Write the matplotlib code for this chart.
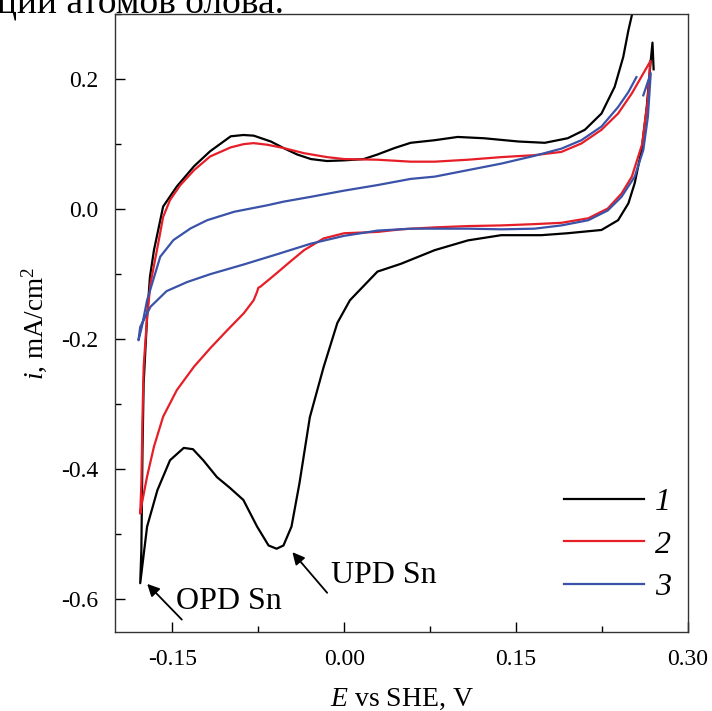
import matplotlib
matplotlib.use("Agg")
import matplotlib.pyplot as plt
from matplotlib.ticker import MultipleLocator, FormatStrFormatter

plt.rcParams["font.family"] = ["Liberation Serif", "DejaVu Serif"]
plt.rcParams["mathtext.fontset"] = "custom"
plt.rcParams["mathtext.rm"] = "Liberation Serif"
plt.rcParams["mathtext.it"] = "Liberation Serif:italic"
plt.rcParams["axes.unicode_minus"] = False

# --- кривая 1 (чёрная): катодная ветвь, затем анодная ---
e1 = [0.270, 0.269, 0.267, 0.264, 0.2595, 0.2535, 0.248, 0.239, 0.2245, 0.195,
      0.172, 0.137, 0.108, 0.079, 0.0495, 0.029, 0.005, -0.006, -0.018, -0.030,
      -0.039, -0.046, -0.053, -0.059, -0.066, -0.076, -0.088, -0.100, -0.111, -0.123,
      -0.132, -0.140, -0.152, -0.163, -0.172, -0.178,
      -0.177, -0.176, -0.175, -0.172, -0.1695, -0.166, -0.158, -0.146, -0.131, -0.117,
      -0.099, -0.088, -0.079, -0.064, -0.053, -0.041, -0.029, -0.015, 0.000, 0.017,
      0.029, 0.044, 0.058, 0.079, 0.099, 0.122, 0.152, 0.175, 0.195, 0.210,
      0.2245, 0.236, 0.2435, 0.248, 0.251, 0.254]
i1 = [0.215, 0.256, 0.219, 0.157, 0.091, 0.040, 0.009, -0.017, -0.032, -0.037,
      -0.040, -0.040, -0.048, -0.063, -0.084, -0.096, -0.140, -0.175, -0.243, -0.320,
      -0.421, -0.488, -0.517, -0.522, -0.517, -0.488, -0.447, -0.428, -0.412, -0.386,
      -0.369, -0.367, -0.386, -0.432, -0.488, -0.575,
      -0.524, -0.370, -0.268, -0.166, -0.104, -0.063, 0.004, 0.035, 0.066, 0.089,
      0.112, 0.114, 0.113, 0.104, 0.094, 0.084, 0.077, 0.074, 0.075, 0.077,
      0.084, 0.094, 0.102, 0.106, 0.111, 0.109, 0.104, 0.102, 0.109, 0.122,
      0.147, 0.188, 0.234, 0.275, 0.298, 0.330]

# --- кривая 2 (красная) ---
e2 = [0.267, 0.265, 0.260, 0.251, 0.242, 0.230, 0.213, 0.1895, 0.166, 0.137,
      0.108, 0.079, 0.0495, 0.029, 0.000, -0.018, -0.035, -0.048, -0.060, -0.073,
      -0.075, -0.076, -0.079, -0.0876, -0.102, -0.117, -0.131, -0.146, -0.158, -0.166,
      -0.172, -0.1765, -0.178,
      -0.177, -0.176, -0.175, -0.172, -0.169, -0.1645, -0.162, -0.158, -0.152, -0.143,
      -0.131, -0.117, -0.099, -0.0876, -0.079, -0.067, -0.053, -0.035, -0.015, 0.000,
      0.029, 0.058, 0.079, 0.108, 0.137, 0.166, 0.1895, 0.207, 0.2245, 0.239,
      0.251, 0.2595, 0.267]
i2 = [0.227, 0.170, 0.100, 0.050, 0.024, 0.001, -0.014, -0.021, -0.023, -0.025,
      -0.026, -0.028, -0.031, -0.035, -0.037, -0.045, -0.063, -0.082, -0.100, -0.119,
      -0.121, -0.127, -0.140, -0.160, -0.186, -0.214, -0.242, -0.278, -0.319, -0.365,
      -0.411, -0.452, -0.468,
      -0.422, -0.319, -0.242, -0.166, -0.114, -0.073, -0.050, -0.012, 0.014, 0.037,
      0.060, 0.081, 0.095, 0.100, 0.1015, 0.099, 0.094, 0.086, 0.080, 0.077,
      0.076, 0.073, 0.073, 0.076, 0.080, 0.083, 0.088, 0.101, 0.122, 0.147,
      0.178, 0.204, 0.227]

# --- кривая 3 (синяя) ---
e3 = [0.261, 0.2675, 0.265, 0.261, 0.2535, 0.242, 0.230, 0.213, 0.1895, 0.166,
      0.137, 0.108, 0.079, 0.058, 0.029, 0.000, -0.029, -0.058, -0.0876, -0.117,
      -0.137, -0.155, -0.169, -0.178, -0.1795,
      -0.1766, -0.172, -0.166, -0.1605, -0.149, -0.134, -0.1196, -0.096, -0.067, -0.053,
      -0.029, 0.000, 0.029, 0.058, 0.079, 0.108, 0.137, 0.166, 0.1895, 0.207,
      0.2245, 0.239, 0.248, 0.255]
i3 = [0.175, 0.209, 0.142, 0.091, 0.050, 0.019, -0.002, -0.017, -0.025, -0.030,
      -0.031, -0.030, -0.030, -0.030, -0.033, -0.041, -0.053, -0.069, -0.085, -0.100,
      -0.112, -0.126, -0.150, -0.181, -0.2015,
      -0.181, -0.140, -0.105, -0.073, -0.0475, -0.0295, -0.017, -0.004, 0.006, 0.0115,
      0.019, 0.0285, 0.037, 0.0465, 0.050, 0.060, 0.070, 0.082, 0.093, 0.106,
      0.127, 0.157, 0.180, 0.203]

labels = ["1", "2", "3"]
colors = ["black", "#e61e28", "#3a52a8"]

fig = plt.figure(figsize=(7.12, 7.11), dpi=100)
ax = fig.add_axes([115 / 712, 1 - 632 / 711, 573 / 712, 618 / 711])

for ex, iy, lab, col in zip([e1, e2, e3], [i1, i2, i3], labels, colors):
    ax.plot(ex, iy, color=col, lw=1.6, label=lab)

ax.set_xlim(-0.20, 0.30)
ax.set_ylim(-0.65, 0.30)
ax.xaxis.set_major_locator(MultipleLocator(0.15))
ax.xaxis.set_minor_locator(MultipleLocator(0.075))
ax.yaxis.set_major_locator(MultipleLocator(0.2))
ax.yaxis.set_minor_locator(MultipleLocator(0.1))
ax.xaxis.set_major_formatter(FormatStrFormatter("%.2f"))
ax.yaxis.set_major_formatter(FormatStrFormatter("%.1f"))
ax.tick_params(which="both", direction="in", top=False, right=False,
               width=1.0, labelsize=17)
ax.tick_params(which="major", length=7, pad=12)
ax.tick_params(which="minor", length=4)
for s in ax.spines.values():
    s.set_linewidth(1.0)
    s.set_color("#333333")

ax.set_xlabel(r"$E$ vs SHE, V", fontsize=20, labelpad=12)
ax.set_ylabel(r"$i$, mA/cm$^2$", fontsize=19.5, labelpad=9)

arrow = dict(arrowstyle="-|>", color="black", lw=1.3, mutation_scale=18)
ax.annotate("", xy=(-0.1736, -0.573), xytext=(-0.140, -0.634), arrowprops=arrow)
ax.annotate("", xy=(-0.0468, -0.524), xytext=(-0.0133, -0.593), arrowprops=arrow)
ax.text(-0.147, -0.614, "OPD Sn", fontsize=23, va="baseline")
ax.text(-0.0118, -0.575, "UPD Sn", fontsize=23, va="baseline")

leg = ax.legend(loc="lower right", bbox_to_anchor=(0.97, 0.048), frameon=False,
                fontsize=23, handlelength=2.5, handletextpad=0.35,
                labelspacing=0.42, borderpad=0, borderaxespad=0)
for t in leg.get_texts():
    t.set_fontstyle("italic")

# обрезанная строка текста статьи сверху
fig.text(-0.004, 1 - 13 / 711, "ции атомов олова.", fontsize=27, va="baseline")

fig.savefig("out.png", dpi=100)
